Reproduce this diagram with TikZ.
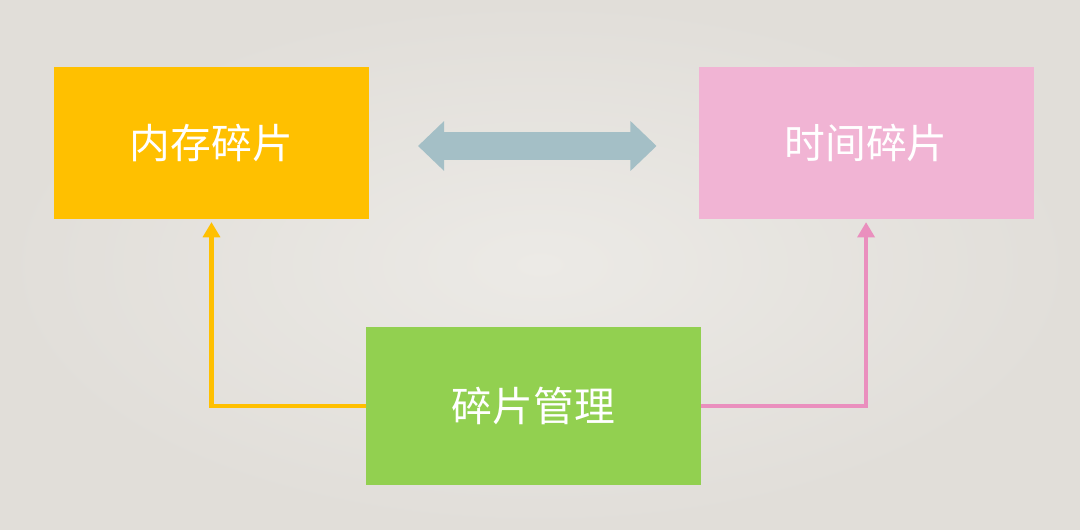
\documentclass[tikz,border=0pt]{standalone}
\usepackage{fontspec}
\newfontfamily\cjk{Noto Sans CJK SC}
\usetikzlibrary{positioning, arrows.meta}
\definecolor{bgin}{RGB}{236,234,230}
\definecolor{bgout}{RGB}{225,222,217}
\definecolor{memorange}{RGB}{255,192,0}
\definecolor{timepink}{RGB}{241,180,212}
\definecolor{timepinkdark}{RGB}{234,143,190}
\definecolor{mgrgreen}{RGB}{146,208,80}
\definecolor{linkblue}{RGB}{164,191,198}
\tikzset{
    fragbox/.style={rectangle, fill=#1, minimum height=3.8cm, inner sep=0pt, text=white, font=\cjk\fontsize{29}{35}\selectfont},
    arr_mem/.style={-{Triangle[length=0.38cm, width=0.42cm]}, line width=0.12cm, color=memorange},
    arr_time/.style={-{Triangle[length=0.38cm, width=0.42cm]}, line width=0.12cm, color=timepinkdark},
    arr_link/.style={{Triangle[length=0.65cm, width=1.24cm, line width=1pt 0]}-{Triangle[length=0.65cm, width=1.24cm, line width=1pt 0]}, line width=0.7cm, color=linkblue}
}
\begin{document}
\begin{tikzpicture}
    % background
    \shade[inner color=bgin, outer color=bgout] (0,0) rectangle (27,13.225);
    \useasboundingbox (0,0) rectangle (27,13.225);
    \node[fragbox=memorange, minimum width=7.875cm] (mem) at (5.2875,9.65) {内存碎片};
    \node[fragbox=timepink, minimum width=8.375cm, right=8.225cm of mem] (time) {时间碎片};
    \node[fragbox=mgrgreen, minimum width=8.375cm, minimum height=3.95cm] (mgr) at (13.3375,3.075) {碎片管理};
    \draw[arr_link, shorten <=1.22cm, shorten >=1.045cm] ([yshift=-0.075cm]mem.east) -- ([yshift=-0.075cm]time.west);
    \draw[arr_mem, shorten >=0.07cm] (mgr.west) -| (mem.south);
    \draw[arr_time, shorten >=0.07cm] (mgr.east) -| (time.south);
\end{tikzpicture}
\end{document}
